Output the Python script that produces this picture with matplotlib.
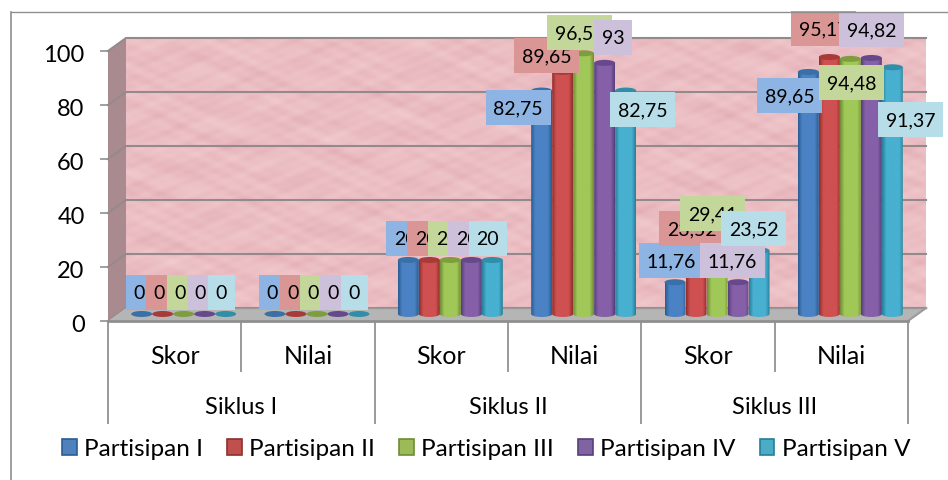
import numpy as np
import matplotlib
matplotlib.use('Agg')
import matplotlib.pyplot as plt
from matplotlib.colors import LinearSegmentedColormap
from matplotlib.lines import Line2D
from matplotlib.patches import Ellipse, Patch, PathPatch, Polygon, Rectangle
from matplotlib.path import Path
from matplotlib.transforms import IdentityTransform, ScaledTranslation

plt.rcParams['font.family'] = ['Lato', 'DejaVu Sans']

cycles = ['Siklus I', 'Siklus II', 'Siklus III']
groups = ['Skor', 'Nilai', 'Skor', 'Nilai', 'Skor', 'Nilai']
names = ['Partisipan I', 'Partisipan II', 'Partisipan III', 'Partisipan IV', 'Partisipan V']

p1 = [0, 0, 20, 82.75, 11.76, 89.65]
p2 = [0, 0, 20, 89.65, 23.52, 95.17]
p3 = [0, 0, 20, 96.55, 29.41, 94.48]
p4 = [0, 0, 20, 93, 11.76, 94.82]
p5 = [0, 0, 20, 82.75, 23.52, 91.37]
series = [p1, p2, p3, p4, p5]

legend_colors = ['#4F81BD', '#C0504D', '#9BBB59', '#8064A2', '#4BACC6']
colors = ['#4A82C4', '#CF5050', '#A0C858', '#8560A8', '#48B0D0']
darks = ['#2A5C93', '#8F2F2C', '#6F8C35', '#573F78', '#267F98']
tops = ['#3A70A8', '#A83A38', '#7E9E3E', '#66488C', '#2F8FA8']
box_colors = ['#8DB4E2', '#DA9694', '#C4D79B', '#CCC0DA', '#B7DEE8']

# label box centres, pixels from the top left of the picture (placed by hand in the original)
label_x = [
    [139, 272.5, 405, 518, 671.5, 789.5],
    [159.5, 293, 426, 546.5, 691.5, 823.5],
    [180, 313, 447, 579.5, 712.5, 851.5],
    [200, 333.5, 467, 613, 732.5, 871.5],
    [221, 354, 487.5, 642.5, 753.5, 910.5],
]
label_y = [
    [293.5, 293.5, 239.5, 108.5, 261.5, 96.5],
    [293.5, 293.5, 239.5, 56.5, 229.5, 29.5],
    [293.5, 293.5, 239.5, 33.5, 214.5, 83.5],
    [293.5, 293.5, 239.5, 38.5, 261.5, 30.5],
    [293.5, 293.5, 239.5, 110.5, 229.5, 120.5],
]

W, H = 948, 481
DEPTH_X, DEPTH_Y = 18 / 133.33, 13 / 2.7
BAR_W = 0.1575
BAR_SHIFT_X, BAR_SHIFT_Y = 9 / 133.33, 2.6
ELL_H = 6 / 2.7


def cylinder(ax, x, v, color, dark, top, z):
    base = BAR_SHIFT_Y
    if v > 0:
        t = np.linspace(np.pi, 2 * np.pi, 30)
        xs = x + BAR_W / 2 * np.cos(t)
        ys = base + ELL_H / 2 * np.sin(t)
        verts = list(zip(xs, ys)) + [(x + BAR_W / 2, base + v), (x - BAR_W / 2, base + v), (x - BAR_W / 2, base)]
        patch = PathPatch(Path(verts), fc='none', ec='none', clip_on=False, zorder=z)
        ax.add_patch(patch)
        cmap = LinearSegmentedColormap.from_list('c', [dark, color, color, color, color, dark], N=64)
        im = ax.imshow(np.linspace(0, 1, 64).reshape(1, -1), cmap=cmap, aspect='auto', zorder=z,
                       extent=(x - BAR_W / 2, x + BAR_W / 2, base - ELL_H, base + v))
        im.set_clip_path(patch)
    ax.add_patch(Ellipse((x, base + v), BAR_W, ELL_H, fc=top, ec='none', clip_on=False, zorder=z + 0.1))


fig = plt.figure(figsize=(W / 100, H / 100), dpi=100)
ax = fig.add_axes([108 / W, (H - 322) / H, 800 / W, 270 / H])

# outer frame of the chart
fig.add_artist(Line2D([11 / W, 1], [1 - 12.5 / H] * 2, color='#8f8f8f', lw=1, transform=fig.transFigure))
fig.add_artist(Line2D([11 / W, 11 / W], [0, 1 - 12.5 / H], color='#8f8f8f', lw=1.2, transform=fig.transFigure))

# back wall with a soft mottled look, sines at unrelated angles so no stripes show
gx, gy = np.meshgrid(np.linspace(0, 1, 800), np.linspace(0, 1, 270))
mottle = np.zeros_like(gx)
for fx, fy, ph in [(37, 29, 0.3), (-53, 41, 1.1), (71, -67, 2.3), (-97, -83, 0.7), (131, 59, 1.9), (-149, 113, 2.9),
                   (23, -47, 0.9), (-17, 61, 2.1), (193, -127, 1.4), (-211, -173, 0.2)]:
    mottle += np.sin(fx * gx + fy * gy + ph)
wall = LinearSegmentedColormap.from_list('wall', ['#E2AEB4', '#EBBEC3', '#F1CBCE'])
ax.imshow(mottle, cmap=wall, aspect='auto', interpolation='bilinear', zorder=1, clip_on=False,
          extent=(DEPTH_X, 6 + DEPTH_X, DEPTH_Y, 100 + DEPTH_Y))
ax.add_patch(Polygon([(0, 0), (DEPTH_X, DEPTH_Y), (DEPTH_X, 100 + DEPTH_Y), (0, 100)], fc='#A98B8F', ec='none',
                     clip_on=False, zorder=1))
ax.add_patch(Polygon([(0, 0), (DEPTH_X, DEPTH_Y), (6 + DEPTH_X, DEPTH_Y), (6, 0)], fc='#B5B5B5', ec='none',
                     clip_on=False, zorder=2))

for tick in range(0, 101, 20):
    ax.plot([0, DEPTH_X, 6 + DEPTH_X], [tick, tick + DEPTH_Y, tick + DEPTH_Y], color='#948A8B', lw=1.5,
            clip_on=False, zorder=1.5)
ax.plot([6, 6 + DEPTH_X], [0, DEPTH_Y], color='#9a9a9a', lw=1.5, clip_on=False, zorder=2.1)
ax.plot([0, 6], [0, 0], color='#8f8f8f', lw=2, clip_on=False, zorder=2.1)
ax.plot([DEPTH_X, 6 + DEPTH_X], [DEPTH_Y, DEPTH_Y], color='#9a9a9a', lw=1, clip_on=False, zorder=2.1)

for s, vals in enumerate(series):
    for g, v in enumerate(vals):
        x = g + 0.5 + BAR_SHIFT_X + (s - 2) * BAR_W
        cylinder(ax, x, v, colors[s], darks[s], tops[s], 3 + s * 0.2)

# data labels, later series lie over the earlier ones
for s, vals in enumerate(series):
    for g, v in enumerate(vals):
        txt = f'{v:g}'.replace('.', ',')
        box_w = {1: 27, 2: 38}.get(len(txt), 65)
        cx, cy = label_x[s][g], H - label_y[s][g]
        ax.add_patch(Rectangle((cx - box_w / 2, cy - 17.5), box_w, 35, fc=box_colors[s], ec='none',
                               transform=IdentityTransform(), clip_on=False, zorder=6 + s))
        ax.annotate(txt, xy=(g + 0.5, v), xytext=(cx, cy), textcoords='figure pixels', ha='center', va='center',
                    fontsize=14, color='black', annotation_clip=False, zorder=6 + s + 0.5)

ax.set_xlim(0, 6)
ax.set_ylim(0, 100)
for spine in ax.spines.values():
    spine.set_visible(False)
ax.patch.set_visible(False)

ax.set_yticks(range(0, 101, 20))
ax.tick_params(axis='y', length=5.8, width=1.2, color='#8f8f8f', labelsize=17, pad=11)
for label in ax.get_yticklabels():
    label.set_transform(label.get_transform() + ScaledTranslation(0, -0.015, fig.dpi_scale_trans))
ax.set_xticks([0, 2, 4, 6])
ax.set_xticks([1, 3, 5], minor=True)
ax.tick_params(axis='x', which='major', length=74, width=1.4, color='#9a9a9a', labelbottom=False)
ax.tick_params(axis='x', which='minor', length=37, width=1.4, color='#9a9a9a', labelbottom=False)

for g, name in enumerate(groups):
    ax.annotate(name, xy=(g + 0.5, 0), xytext=(0, -35), textcoords='offset pixels', ha='center', va='center',
                fontsize=18, annotation_clip=False)
for c, name in enumerate(cycles):
    ax.annotate(name, xy=(2 * c + 1, 0), xytext=(0, -86), textcoords='offset pixels', ha='center', va='center',
                fontsize=17, annotation_clip=False)

handles = [Patch(fc=legend_colors[i], ec=darks[i], lw=1.2, label=names[i]) for i in range(5)]
fig.legend(handles=handles, ncol=5, loc='center', bbox_to_anchor=(486 / W, 1 - 450 / H), frameon=False,
           fontsize=17.5, handlelength=0.6, handleheight=0.66, handletextpad=0.3, columnspacing=1.0,
           borderpad=0, borderaxespad=0)

fig.savefig('out.png', dpi=100)
